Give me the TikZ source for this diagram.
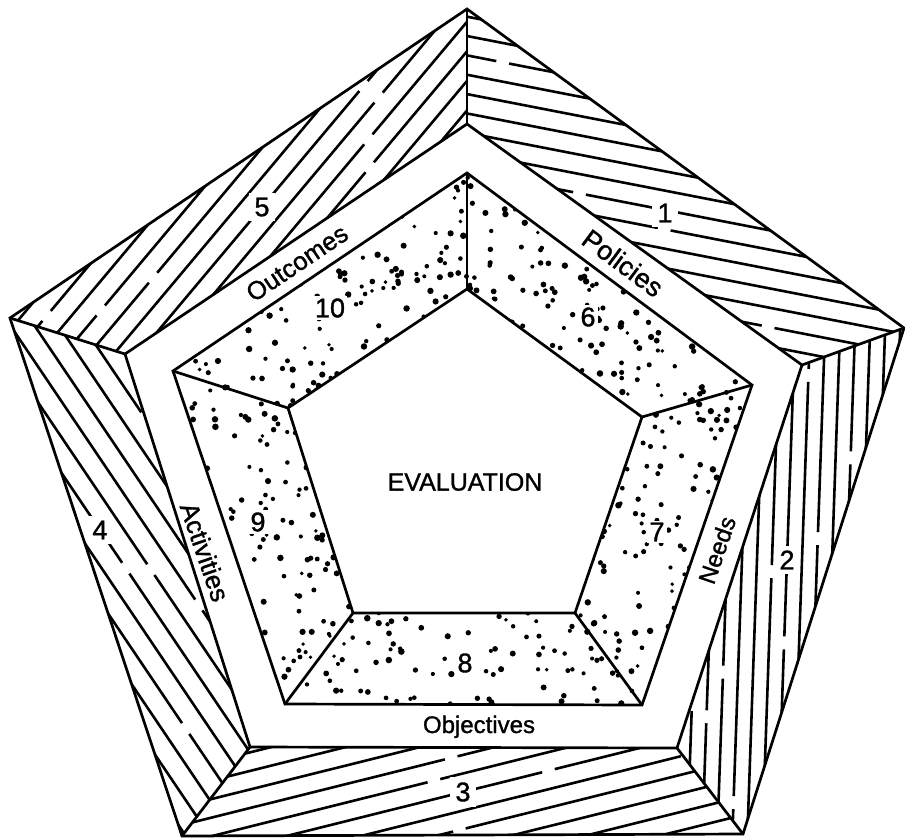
\documentclass[tikz,border=0pt]{standalone}
\usepackage{fontspec}
\setmainfont{Liberation Sans}[FakeBold=1.2]
\usetikzlibrary{calc}
\begin{document}
\begin{tikzpicture}[x=1pt,y=-1pt,
  edge/.style={line width=2.7pt, line join=miter, line cap=round},
  hatch/.style={line width=2.6pt, dash pattern=on 330pt off 13pt},
  lbl/.style={font=\fontsize{24}{24}\selectfont, inner sep=0pt},
  num/.style={font=\fontsize{27}{27}\selectfont, inner sep=2pt, fill=white},
  hnum/.style={num, inner sep=5pt}]
\useasboundingbox (0,0) rectangle (905,839);
% outer pentagon
\coordinate (A1) at (467,9);
\coordinate (A2) at (904,328);
\coordinate (A3) at (743,834);
\coordinate (A4) at (182,836);
\coordinate (A5) at (10,318);
% inner edge of hatched band
\coordinate (B1) at (467,124);
\coordinate (B2) at (802,365);
\coordinate (B3) at (677,748);
\coordinate (B4) at (250,747);
\coordinate (B5) at (125,354);
% outer edge of dotted band
\coordinate (C1) at (467,173);
\coordinate (C2) at (752,385);
\coordinate (C3) at (642,705);
\coordinate (C4) at (285,704);
\coordinate (C5) at (173,371);
% inner pentagon
\coordinate (D1) at (467,289);
\coordinate (D2) at (642,417);
\coordinate (D3) at (575,613);
\coordinate (D4) at (353,613);
\coordinate (D5) at (288,408);
\pgfmathsetseed{11}
% hatching, band 1 (top right)
\begin{scope}
\clip (A1)--(A2)--(B2)--(B1)--cycle;
\foreach \k in {-25,...,25}{
  \pgfmathsetmacro\ph{340*rnd}
  \draw[hatch, dash phase=\ph pt] ($(665,210)+(101:\k*19)+(11:-700)$) -- ($(665,210)+(101:\k*19)+(11:700)$);}
\end{scope}
% band 2 (right)
\begin{scope}
\clip (A2)--(A3)--(B3)--(B2)--cycle;
\foreach \k in {-25,...,25}{
  \pgfmathsetmacro\ph{340*rnd}
  \draw[hatch, dash phase=\ph pt] ($(787,560)+(2:\k*15)+(92:-700)$) -- ($(787,560)+(2:\k*15)+(92:700)$);}
\end{scope}
% band 3 (bottom)
\begin{scope}
\clip (A3)--(A4)--(B4)--(B3)--cycle;
\foreach \k in {-25,...,25}{
  \pgfmathsetmacro\ph{340*rnd}
  \draw[hatch, dash phase=\ph pt] ($(463,792)+(77:\k*18)+(-14:-700)$) -- ($(463,792)+(77:\k*18)+(-14:700)$);}
\end{scope}
% band 4 (left)
\begin{scope}
\clip (A4)--(A5)--(B5)--(B4)--cycle;
\foreach \k in {-25,...,25}{
  \pgfmathsetmacro\ph{340*rnd}
  \draw[hatch, dash phase=\ph pt] ($(100,530)+(146:\k*20)+(56:-700)$) -- ($(100,530)+(146:\k*20)+(56:700)$);}
\end{scope}
% band 5 (top left)
\begin{scope}
\clip (A5)--(A1)--(B1)--(B5)--cycle;
\foreach \k in {-25,...,25}{
  \pgfmathsetmacro\ph{340*rnd}
  \draw[hatch, dash phase=\ph pt] ($(262,207)+(40:\k*19)+(-50:-700)$) -- ($(262,207)+(40:\k*19)+(-50:700)$);}
\end{scope}
% stipple
\begin{scope}
\clip (C1)--(C2)--(C3)--(C4)--(C5)--cycle;
\foreach \i in {1,...,1050}{
  \pgfmathsetmacro\xx{173+579*rnd}
  \pgfmathsetmacro\yy{173+532*rnd}
  \pgfmathsetmacro\rr{1.9+1.4*rnd}
  \fill (\xx,\yy) circle[radius=\rr];
}
\end{scope}
\fill[white] (D1)--(D2)--(D3)--(D4)--(D5)--cycle;
% numbers
\node[hnum] (n1) at (665,213) {1};
\node[hnum] (n2) at (787,560) {2};
\node[hnum] (n3) at (463,792) {3};
\node[hnum] (n4) at (100,530) {4};
\node[hnum] (n5) at (262,207) {5};
\node[num] (n6) at (588,317) {6};
\node[num] (n7) at (657,532) {7};
\node[num] (n8) at (465,663) {8};
\node[num] (n9) at (258,522) {9};
\node[num] (n10) at (330,308) {10};
% outlines
\draw[edge] (A1)--(A2)--(A3)--(A4)--(A5)--cycle;
\draw[edge] (B1)--(B2)--(B3)--(B4)--(B5)--cycle;
\draw[edge] (C1)--(C2)--(C3)--(C4)--(C5)--cycle;
\draw[edge] (D1)--(D2)--(D3)--(D4)--(D5)--cycle;
\foreach \i in {1,...,5}{
  \draw[edge] (A\i)--(B\i);
  \draw[edge] (C\i)--(D\i);
}
% labels
\node[lbl, rotate=-36.6, font=\fontsize{27}{27}\selectfont] (pol) at (623,263) {Policies};
\node[lbl, rotate=34, font=\fontsize{25.5}{25.5}\selectfont] (out) at (297,263) {Outcomes};
\node[lbl, rotate=71] (nee) at (717,550) {Needs};
\node[lbl, rotate=-71, font=\fontsize{26}{26}\selectfont] (act) at (205,552) {Activities};
\node[lbl, anchor=base] (obj) at (479,733) {Objectives};
\node[font=\fontsize{25}{25}\selectfont, inner sep=0pt] (eva) at (465,482) {EVALUATION};
\end{tikzpicture}
\end{document}
